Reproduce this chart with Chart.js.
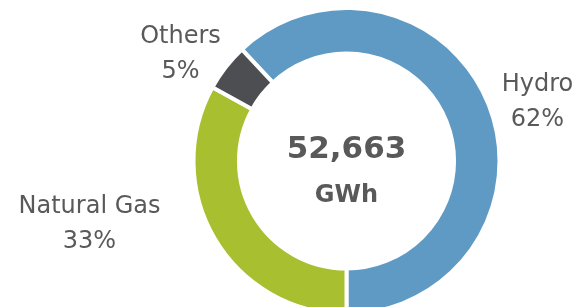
<!DOCTYPE html>
<html>
<head>
<meta charset="utf-8">
<script src="https://cdn.jsdelivr.net/npm/chart.js@4/dist/chart.umd.min.js"></script>
<style>
  html, body { margin: 0; padding: 0; background: #fff; overflow: hidden; }
  canvas { display: block; }
</style>
</head>
<body>
<canvas id="mixChart" width="583" height="330"></canvas>
<script>
const categorias = ['Hydro', 'Natural Gas', 'Others'];
const porcentajes = [62, 33, 5];
const colores = ['#5f9ac5', '#a8bf30', '#4d4e52'];
const totalTexto = '52,663';
const unidad = 'GWh';

const textColor = '#595959';
const fontFam = '"DejaVu Sans", Verdana, sans-serif';

// label placement relative to ring centre (dx, dy of first line baseline)
const etiquetas = {
    'Hydro': { dx: 191, dy: -70 },
    'Natural Gas': { dx: -257, dy: 52 },
    'Others': { dx: -166, dy: -118 }
};

const textosPlugin = {
    id: 'textos',
    afterDraw(chart) {
        const ctx = chart.ctx;
        const arc = chart.getDatasetMeta(0).data[0];
        const cx = arc.x, cy = arc.y;
        ctx.save();
        ctx.fillStyle = textColor;
        ctx.textAlign = 'center';
        ctx.textBaseline = 'alphabetic';

        ctx.font = 'bold 31px ' + fontFam;
        ctx.fillText(totalTexto, cx, cy - 3);
        ctx.font = 'bold 24px ' + fontFam;
        ctx.fillText(unidad, cx, cy + 41);

        ctx.font = '24px ' + fontFam;
        categorias.forEach((cat, i) => {
            const p = etiquetas[cat];
            ctx.fillText(cat, cx + p.dx, cy + p.dy);
            ctx.fillText(porcentajes[i] + '%', cx + p.dx, cy + p.dy + 35);
        });
        ctx.restore();
    }
};

const ctx = document.getElementById('mixChart').getContext('2d');
new Chart(ctx, {
    type: 'doughnut',
    data: {
        labels: categorias,
        datasets: [{
            data: porcentajes,
            backgroundColor: colores,
            borderColor: '#ffffff',
            borderWidth: 4,
            hoverOffset: 0
        }]
    },
    options: {
        responsive: false,
        animation: false,
        devicePixelRatio: 1,
        rotation: -43.2,
        cutout: '70.3%',
        layout: {
            padding: { left: 191.5, right: 81.5, top: 6, bottom: 14 }
        },
        plugins: {
            legend: { display: false },
            tooltip: { enabled: false }
        }
    },
    plugins: [textosPlugin]
});
</script>
</body>
</html>
